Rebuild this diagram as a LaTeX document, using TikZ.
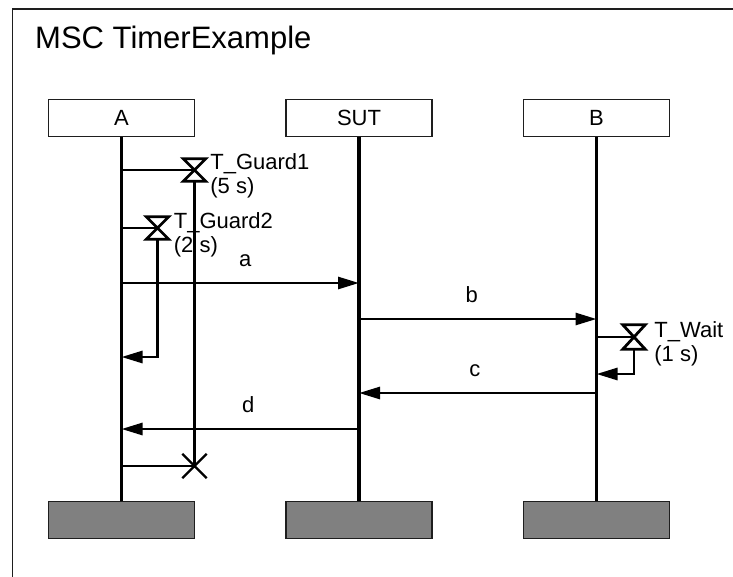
\documentclass[tikz,border=0pt]{standalone}
\usepackage{fontspec}
\setmainfont{Liberation Sans}
\usetikzlibrary{arrows.meta, calc, shapes.misc}

\definecolor{footgray}{RGB}{128,128,128}
\definecolor{edgegray}{RGB}{30,30,30}

\tikzset{
  instbox/.style={draw=edgegray, line width=1.3pt, minimum width=146pt, minimum height=37pt, inner sep=0pt},
  instend/.style={instbox, fill=footgray},
  lifeline/.style={line width=3.2pt},
  msgline/.style={line width=2.8pt},
  timerbox/.style={minimum width=22pt, minimum height=22pt, inner sep=0pt},
  timerstop/.style={cross out, draw, line width=2.4pt, minimum size=22pt, inner sep=0pt},
  msglabel/.style={anchor=base, yshift=17pt},
  timerlabel/.style={anchor=west, align=left, inner sep=0pt}
}
\newcommand{\timerglass}[1]{\draw[msgline, line join=miter] (#1.north west) -- (#1.north east) -- (#1.south west) -- (#1.south east) -- cycle;}

\begin{document}
\begin{tikzpicture}[x=1pt, y=-1pt, >={Triangle[length=21pt, width=12pt]}, every node/.style={font=\fontsize{22}{24}\selectfont}]
  \useasboundingbox (0,0) rectangle (733,576);
  % frame and title
  \draw[line width=1.2pt, edgegray] (12.7,590) |- (745,9);
  \node[anchor=base west, font=\fontsize{31}{34}\selectfont] (title) at (31.7,48.3) {MSC TimerExample};

  % instances
  \node[instbox] (headA) at (121.5,118) {A};
  \node[instbox] (headSUT) at (359,118) {SUT};
  \node[instbox] (headB) at (596.5,118) {B};
  \node[instend] (footA) at (121.5,520) {};
  \node[instend] (footSUT) at (359,520) {};
  \node[instend] (footB) at (596.5,520) {};
  \foreach \inst in {A, SUT, B}
    \draw[lifeline] (head\inst.south) -- (foot\inst.north);

  % message levels
  \coordinate (ya) at (0,283);
  \coordinate (yb) at (0,319);
  \coordinate (yc) at (0,393);
  \coordinate (yd) at (0,429);

  % timers
  \node[timerbox] (guard1) at (194.5,170) {};
  \node[timerbox] (guard2) at (157.5,228) {};
  \node[timerbox, minimum height=24pt] (wait) at (634,337) {};
  \node[timerstop] (stop1) at (194.5,466) {};
  \coordinate (back2) at (157.5,357);
  \coordinate (back3) at (634,374);

  \draw[msgline] (headA |- guard1) -- (guard1.center);
  \draw[msgline] (guard1.south) -- (stop1.center);
  \draw[msgline] (headA |- stop1) -- (stop1.center);
  \draw[msgline] (headA |- guard2) -- (guard2.center);
  \draw[msgline, ->] (guard2.south) |- (headA |- back2);
  \draw[msgline] (headB |- wait) -- (wait.center);
  \draw[msgline, ->] (wait.south) |- (headB |- back3);
  \timerglass{guard1}
  \timerglass{guard2}
  \timerglass{wait}

  \node[timerlabel] (guard1lbl) at ($(guard1.east)+(4.5,6)$) {T\_Guard1\\(5 s)};
  \node[timerlabel] (guard2lbl) at ($(guard2.east)+(5,7)$) {T\_Guard2\\(2 s)};
  \node[timerlabel] (waitlbl) at ($(wait.east)+(9,7)$) {T\_Wait\\(1 s)};

  % messages
  \draw[msgline, ->] (headA |- ya) -- (headSUT |- ya) node[midway, msglabel, xshift=5pt] (msga) {a};
  \draw[msgline, ->] (headSUT |- yb) -- (headB |- yb) node[midway, msglabel, xshift=-6pt] (msgb) {b};
  \draw[msgline, ->] (headB |- yc) -- (headSUT |- yc) node[midway, msglabel, xshift=-3pt] (msgc) {c};
  \draw[msgline, ->] (headSUT |- yd) -- (headA |- yd) node[midway, msglabel, xshift=8pt] (msgd) {d};
\end{tikzpicture}
\end{document}
